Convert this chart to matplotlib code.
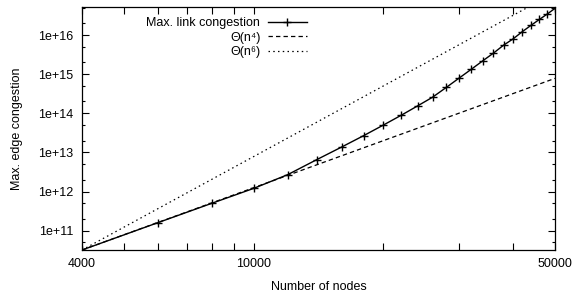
"""Max. edge congestion vs number of nodes (log-log, gnuplot-style)."""

import matplotlib

matplotlib.use("Agg")
import matplotlib.pyplot as plt
from matplotlib.ticker import FixedLocator, NullFormatter

plt.rcParams["font.family"] = ["Liberation Sans", "DejaVu Sans"]

# measured maximum link congestion
nodes = [4000, 6000, 8000, 10000, 12000, 14000, 16000, 18000, 20000, 22000,
         24000, 26000, 28000, 30000, 32000, 34000, 36000, 38000, 40000, 42000,
         44000, 46000, 48000, 50000]
congestion = [3.2e10, 1.6e11, 5.0e11, 1.2e12, 2.7e12, 6.5e12, 1.37e13, 2.68e13,
              5.0e13, 8.9e13, 1.54e14, 2.57e14, 4.6e14, 8.0e14, 1.34e15, 2.19e15,
              3.45e15, 5.5e15, 8.0e15, 1.22e16, 1.77e16, 2.5e16, 3.45e16, 4.8e16]

# reference curves (straight lines in log-log space)
ref_x = [4000, 50000]
theta4_y = [3.2e10, 7.8e14]
theta6_y = [3.2e10, 1.22e17]

x_major = [4000, 10000, 50000]
x_minor = [5000, 6000, 7000, 8000, 9000, 20000, 30000, 40000]
y_major = [1e11, 1e12, 1e13, 1e14, 1e15, 1e16]
y_labels = ["1e+11", "1e+12", "1e+13", "1e+14", "1e+15", "1e+16"]
y_minor = [m * 10.0 ** e for e in range(10, 17) for m in (2, 5)]

fig = plt.figure(figsize=(5.73, 2.97), dpi=100)
ax = fig.add_axes([82 / 573, 47 / 297, 473 / 573, 243 / 297])

ax.plot(nodes, congestion, color="black", linewidth=1.0, marker="+",
        markersize=5.5, markeredgewidth=1.0, label="Max. link congestion")
ax.plot(ref_x, theta4_y, color="black", linewidth=0.9, linestyle=(0, (3.5, 2.5)),
        label="Θ(n⁴)")
ax.plot(ref_x, theta6_y, color="black", linewidth=0.9, linestyle=(0, (1.2, 2.6)),
        label="Θ(n⁶)")

ax.set_xscale("log")
ax.set_yscale("log")
ax.set_xlim(4000, 50000)
ax.set_ylim(3.2e10, 5.2e16)

ax.xaxis.set_major_locator(FixedLocator(x_major))
ax.xaxis.set_minor_locator(FixedLocator(x_minor))
ax.set_xticklabels([str(v) for v in x_major])
ax.xaxis.set_minor_formatter(NullFormatter())
ax.yaxis.set_major_locator(FixedLocator(y_major))
ax.set_yticklabels(y_labels)
ax.yaxis.set_minor_locator(FixedLocator(y_minor))
ax.yaxis.set_minor_formatter(NullFormatter())

ax.tick_params(which="both", direction="in", top=True, right=True,
               labelsize=9, width=0.8, pad=6)
ax.tick_params(axis="x", which="both", length=5)
ax.tick_params(axis="y", which="major", length=5)
ax.tick_params(axis="y", which="minor", length=2.5)
for s in ax.spines.values():
    s.set_linewidth(0.9)

ax.set_xlabel("Number of nodes", fontsize=9, labelpad=8)
ax.set_ylabel("Max. edge congestion", fontsize=9, labelpad=11)

ax.legend(loc="upper right", bbox_to_anchor=(0.488, 0.983), frameon=False,
          markerfirst=False, fontsize=9, handlelength=3.1, handletextpad=0.6,
          labelspacing=0.18, borderaxespad=0.3, borderpad=0.2)

fig.savefig("out.png", dpi=100)
plt.close(fig)
